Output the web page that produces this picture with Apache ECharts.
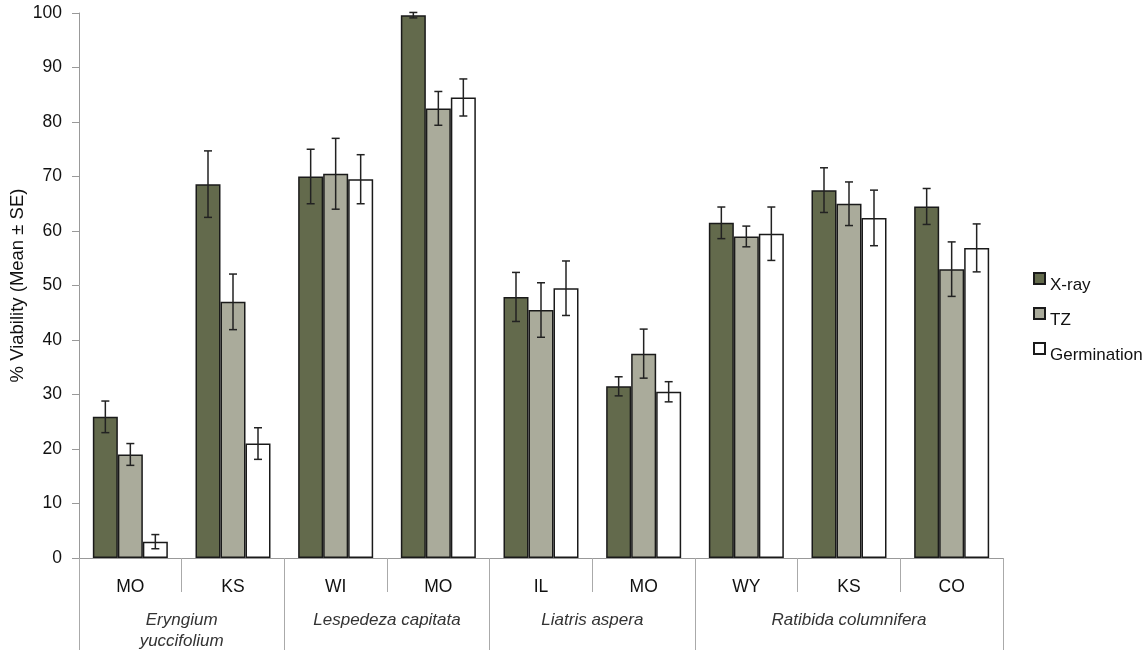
<!DOCTYPE html>
<html>
<head>
<meta charset="utf-8">
<script src="https://cdn.jsdelivr.net/npm/echarts@6/dist/echarts.min.js"></script>
<style>html,body{margin:0;padding:0;background:#fff}#c{width:1148px;height:650px}</style>
</head>
<body>
<div id="c"></div>
<script>
const categories = ['MO','KS','WI','MO','IL','MO','WY','KS','CO'];
const groupNames = ['Eryngium\nyuccifolium','Lespedeza capitata','Liatris aspera','Ratibida columnifera'];
const groupSizes = [2,2,2,3];
const seriesNames = ['X-ray','TZ','Germination'];
const xray    = [25.9,68.6,70.0,99.6,47.9,31.5,61.5,67.5,64.5];
const xrayErr = [2.9,6.1,5.0,0.5,4.5,1.75,2.9,4.1,3.3];
const tz      = [19.0,47.0,70.5,82.5,45.5,37.5,59.0,65.0,53.0];
const tzErr   = [2.0,5.1,6.5,3.1,5.0,4.5,1.9,4.0,5.0];
const germ    = [3.0,21.0,69.5,84.5,49.5,30.5,59.5,62.4,56.9];
const germErr = [1.3,2.9,4.5,3.4,5.0,1.85,4.9,5.1,4.4];
const yTicks = [0,10,20,30,40,50,60,70,80,90,100];

const values = [xray, tz, germ];
const errs = [xrayErr, tzErr, germErr];
const colors = ['#636a4c','#aaab9b','#ffffff'];

const boundaries = [0];
const centers = [];
let acc = 0;
groupSizes.forEach(s => { centers.push(acc + s/2); acc += s; boundaries.push(acc); });

const FONT = 'Liberation Sans, Arial, sans-serif';
const BAR_W = 25;

const chart = echarts.init(document.getElementById('c'));
const series = [];
values.forEach((vals, s) => {
  series.push({
    name: seriesNames[s], type: 'bar', xAxisIndex: 0, yAxisIndex: 0,
    data: vals, barWidth: BAR_W, barGap: '0%',
    itemStyle: { color: colors[s], borderColor: '#1a1a1a', borderWidth: 1.5 },
    z: 2
  });
});
values.forEach((vals, s) => {
  series.push({
    type: 'custom', xAxisIndex: 0, yAxisIndex: 0, z: 5, silent: true,
    data: vals.map((v, i) => [i, v, errs[s][i]]),
    encode: { x: 0, y: 1 },
    renderItem: function (params, api) {
      const i = api.value(0), v = api.value(1), e = api.value(2);
      const top = api.coord([i, v + e]);
      const bot = api.coord([i, v - e]);
      const x = top[0] + (s - 1) * BAR_W;
      const cap = 4;
      const st = { stroke: '#222', lineWidth: 1.5 };
      return { type: 'group', children: [
        { type: 'line', shape: { x1: x, y1: top[1], x2: x, y2: bot[1] }, style: st },
        { type: 'line', shape: { x1: x - cap, y1: top[1], x2: x + cap, y2: top[1] }, style: st },
        { type: 'line', shape: { x1: x - cap, y1: bot[1], x2: x + cap, y2: bot[1] }, style: st }
      ]};
    }
  });
});

chart.setOption({
  animation: false,
  backgroundColor: '#fff',
  textStyle: { fontFamily: FONT },
  grid: { left: 79, right: 145, top: 13, bottom: 92, containLabel: false, outerBoundsMode: 'none' },
  legend: {
    data: seriesNames, orient: 'vertical', left: 1028, top: 267,
    itemWidth: 11, itemHeight: 11, itemGap: 13,
    icon: 'rect',
    formatter: n => '{a|' + n + '}',
    textStyle: { fontSize: 17, color: '#111', fontFamily: FONT,
      rich: { a: { fontSize: 17, color: '#111', fontFamily: FONT, padding: [14, 0, 0, 0] } } }
  },
  xAxis: [
    {
      type: 'category', data: categories.map((c, i) => i + '|' + c), position: 'bottom',
      axisLine: { show: true, lineStyle: { color: '#999', width: 1 } },
      axisTick: { show: true, length: 34, lineStyle: { color: '#aaa' } },
      axisLabel: { fontSize: 17.5, color: '#111', margin: 20, fontFamily: FONT,
        formatter: v => v.split('|')[1] },
      splitLine: { show: false }
    },
    {
      type: 'value', min: 0, max: 9, position: 'bottom',
      axisLine: { show: false },
      axisTick: { show: true, customValues: boundaries, length: 92, lineStyle: { color: '#aaa' } },
      axisLabel: { show: true, customValues: centers, margin: 52, fontSize: 17, fontStyle: 'italic',
        color: '#333', fontFamily: FONT, lineHeight: 21,
        formatter: v => { const k = centers.indexOf(v); return k >= 0 ? groupNames[k] : ''; } },
      splitLine: { show: false }
    }
  ],
  yAxis: {
    type: 'value', min: 0, max: 100, interval: 10,
    name: '% Viability (Mean ± SE)', nameLocation: 'middle', nameGap: 52, nameMoveOverlap: false,
    nameTextStyle: { fontSize: 18.5, color: '#111', fontFamily: FONT },
    axisLine: { show: true, lineStyle: { color: '#999' } },
    axisTick: { show: true, length: 7, lineStyle: { color: '#999' } },
    axisLabel: { fontSize: 17.5, color: '#111', margin: 17, fontFamily: FONT,
      customValues: yTicks },
    splitLine: { show: false }
  },
  series: series
});
</script>
</body>
</html>
